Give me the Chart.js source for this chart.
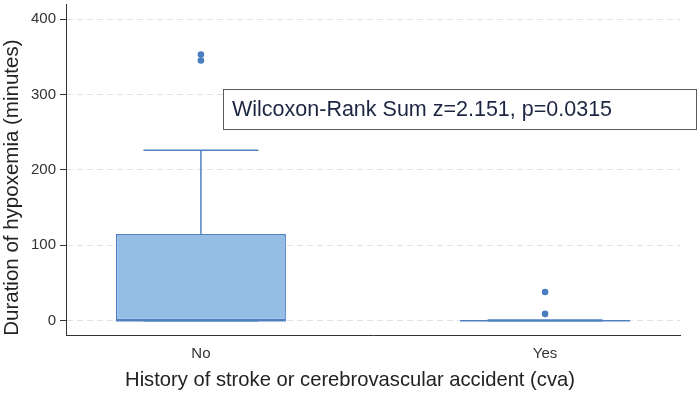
<!DOCTYPE html>
<html>
<head>
<meta charset="utf-8">
<script src="https://cdn.jsdelivr.net/npm/chart.js@4.4.0/dist/chart.umd.min.js"></script>
<style>
  html, body { margin: 0; padding: 0; background: #fff; }
  #wrap { width: 700px; height: 394px; position: relative; }
</style>
</head>
<body>
<div id="wrap"><canvas id="boxChart" width="700" height="394"></canvas></div>
<script>
// box plot summary per group (minutes)
const groups = ['No', 'Yes'];
const groupX = [1, 2];
const q1 = [0, 0];
const median = [0, 0];
const q3 = [115, 1];
const whiskerLow = [0, 0];
const whiskerHigh = [226, 1];
const outliers = [[353, 345], [38, 9]];
const yTicks = [0, 100, 200, 300, 400];
const statText = 'Wilcoxon-Rank Sum z=2.151, p=0.0315';

const boxColor = '#95bee7';
const lineColor = '#4f80c1';
const capHalf = 0.167;
const fontFamily = '"Liberation Sans", Arial, sans-serif';

// whisker + median segments, broken with null points
const whiskerData = [];
const medianData = [];
groupX.forEach(function(x, i) {
    whiskerData.push({x: x, y: q3[i]}, {x: x, y: whiskerHigh[i]}, {x: x, y: null});
    whiskerData.push({x: x - capHalf, y: whiskerHigh[i]}, {x: x + capHalf, y: whiskerHigh[i]}, {x: x, y: null});
    whiskerData.push({x: x, y: q1[i]}, {x: x, y: whiskerLow[i]}, {x: x, y: null});
    whiskerData.push({x: x - capHalf, y: whiskerLow[i]}, {x: x + capHalf, y: whiskerLow[i]}, {x: x, y: null});
    medianData.push({x: x - 0.247, y: median[i]}, {x: x + 0.247, y: median[i]}, {x: x, y: null});
});

const outlierData = [];
groupX.forEach(function(x, i) {
    outliers[i].forEach(function(v) { outlierData.push({x: x, y: v}); });
});

const statBox = {
    id: 'statBox',
    afterDraw: function(chart) {
        const ctx = chart.ctx;
        ctx.save();
        ctx.strokeStyle = '#5a5a5a';
        ctx.lineWidth = 1;
        ctx.fillStyle = '#fff';
        ctx.fillRect(223.5, 89.5, 473, 40);
        ctx.strokeRect(223.5, 89.5, 473, 40);
        ctx.fillStyle = '#1c2541';
        ctx.font = '21.5px ' + fontFamily;
        ctx.textBaseline = 'middle';
        ctx.fillText(statText, 232, 110);
        ctx.restore();
    }
};

const ctx = document.getElementById('boxChart').getContext('2d');
const chart = new Chart(ctx, {
    type: 'scatter',
    data: {
        datasets: [
            {
                type: 'bar',
                label: 'box',
                data: groupX.map(function(x, i) { return {x: x, y: [q1[i], q3[i]]}; }),
                backgroundColor: boxColor,
                borderColor: lineColor,
                borderWidth: 1.5,
                borderSkipped: false,
                barPercentage: 0.494,
                categoryPercentage: 1
            },
            {
                label: 'whiskers',
                data: whiskerData,
                showLine: true,
                spanGaps: false,
                borderColor: lineColor,
                borderWidth: 1.5,
                pointRadius: 0
            },
            {
                label: 'median',
                data: medianData,
                showLine: true,
                spanGaps: false,
                borderColor: lineColor,
                borderWidth: 1.5,
                pointRadius: 0
            },
            {
                label: 'outliers',
                data: outlierData,
                backgroundColor: '#4a7cc0',
                borderColor: '#4a7cc0',
                pointRadius: 3.3,
                borderWidth: 0
            }
        ]
    },
    options: {
        responsive: false,
        animation: false,
        devicePixelRatio: 1,
        layout: { padding: { left: 0, right: 0, top: 2, bottom: 0 } },
        plugins: {
            legend: { display: false },
            tooltip: { enabled: false },
            title: {
                display: true,
                position: 'bottom',
                text: 'History of stroke or cerebrovascular accident (cva)',
                color: '#222',
                padding: { top: 0, bottom: 1 },
                font: { family: fontFamily, size: 20.2, weight: 'normal' }
            }
        },
        scales: {
            x: {
                type: 'linear',
                min: 0.608,
                max: 2.392,
                offset: false,
                afterBuildTicks: function(scale) {
                    scale.ticks = groupX.map(function(v) { return {value: v}; });
                },
                afterFit: function(scale) {
                    scale.height = 33;
                    scale.paddingLeft = 0;
                    scale.paddingRight = 20;
                },
                grid: { display: false, drawTicks: false, offset: false },
                border: { display: true, color: '#333', width: 1 },
                ticks: {
                    color: '#333',
                    padding: 9,
                    font: { family: fontFamily, size: 15 },
                    callback: function(value) { return groups[groupX.indexOf(value)]; }
                }
            },
            y: {
                min: -20,
                max: 420,
                afterBuildTicks: function(scale) {
                    scale.ticks = yTicks.map(function(v) { return {value: v}; });
                },
                afterFit: function(scale) {
                    scale.width = 66;
                    scale.paddingTop = 0;
                    scale.paddingBottom = 0;
                },
                grid: {
                    color: '#e2e2e2',
                    tickColor: '#333',
                    tickLength: 6,
                    tickBorderDash: []
                },
                border: { display: true, color: '#333', width: 1, dash: [6, 4] },
                ticks: {
                    color: '#333',
                    padding: 4,
                    font: { family: fontFamily, size: 15 }
                },
                title: {
                    display: true,
                    align: 'start',
                    text: 'Duration of hypoxemia (minutes)',
                    color: '#222',
                    padding: 0,
                    font: { family: fontFamily, size: 20.5 }
                }
            }
        }
    },
    plugins: [statBox]
});
</script>
</body>
</html>
